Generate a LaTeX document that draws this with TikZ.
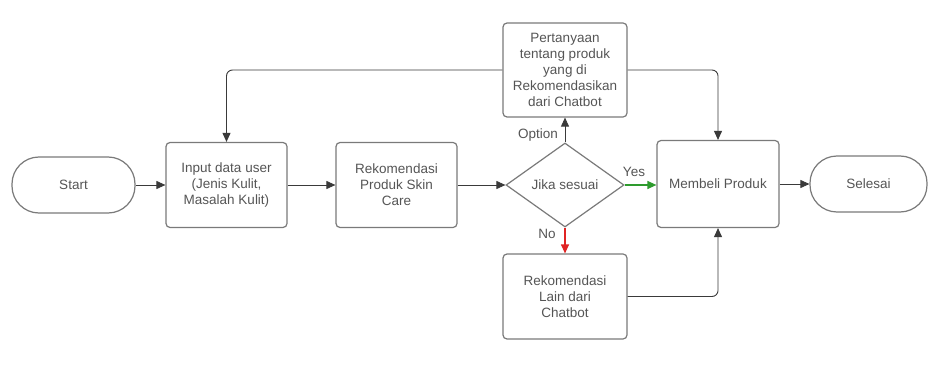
\documentclass[tikz,border=0pt]{standalone}
\usepackage{fontspec}
\setmainfont{Liberation Sans}
\usetikzlibrary{arrows.meta,shapes.geometric}
\definecolor{txt}{HTML}{555555}
\definecolor{boxc}{HTML}{7A7A7A}
\definecolor{conc}{HTML}{3A3A3A}
\definecolor{yesc}{HTML}{2E9B2E}
\definecolor{noc}{HTML}{E02424}
\begin{document}
\begin{tikzpicture}[x=1pt,y=-1pt,
  lbl/.style={font=\fontsize{13.5}{16}\selectfont, text=txt},
  box/.style={draw=boxc, line width=1.2pt, rounded corners=4pt, minimum width=121pt, minimum height=85pt, align=center, inner sep=0pt, lbl},
  term/.style={draw=boxc, line width=1.2pt, rounded corners=27pt, minimum height=56pt, inner sep=0pt, lbl},
  dec/.style={diamond, draw=boxc, line width=1.2pt, minimum width=118pt, minimum height=84pt, aspect=1.4, inner sep=0pt, lbl},
  conn/.style={draw=conc, line width=0.9pt, rounded corners=6pt, -{Triangle[length=9pt,width=8pt]}}
]
\useasboundingbox (0,0) rectangle (928,374);
\fill[white] (0,0) rectangle (928,374);

\node[term, minimum width=123pt] (start) at (73.5,185) {Start};
\node[box] (input) at (226.5,185) {Input data user\\(Jenis Kulit,\\Masalah Kulit)};
\node[box] (rek) at (396.5,185) {Rekomendasi\\Produk Skin\\Care};
\node[dec] (jika) at (565,185) {Jika sesuai};
\node[box, minimum width=124pt, minimum height=94pt] (pert) at (565,70) {Pertanyaan\\tentang produk\\yang di\\Rekomendasikan\\dari Chatbot};
\node[box, minimum width=124pt, minimum height=85pt] (lain) at (565,296.5) {Rekomendasi\\Lain dari\\Chatbot};
\node[box, minimum width=122pt, minimum height=87pt] (beli) at (718,184) {Membeli Produk};
\node[term, minimum width=117pt] (sel) at (868.5,184) {Selesai};

\draw[conn] (start) -- (input);
\draw[conn] (input) -- (rek);
\draw[conn] (rek) -- (jika);
\draw[conn, draw=yesc, line width=1.2pt, -{Triangle[length=9pt,width=8pt,fill=yesc]}] (jika.east) -- (jika.east -| beli.west);
\draw[conn] (jika.north) -- (pert.south);
\draw[conn, draw=noc, line width=1.2pt, -{Triangle[length=9pt,width=8pt,fill=noc]}] (jika.south) -- (lain.north);
\draw[conn] (beli) -- (sel);
\draw[conn] (pert.west) -| (input.north);
\draw[conn] (pert.east) -| (beli.north);
\draw[conn] (lain.east) -| (beli.south);

\node[lbl] (yes) at (634,171.5) {Yes};
\node[lbl] (opt) at (538,135) {Option};
\node[lbl] (no) at (547,234) {No};
\end{tikzpicture}
\end{document}
